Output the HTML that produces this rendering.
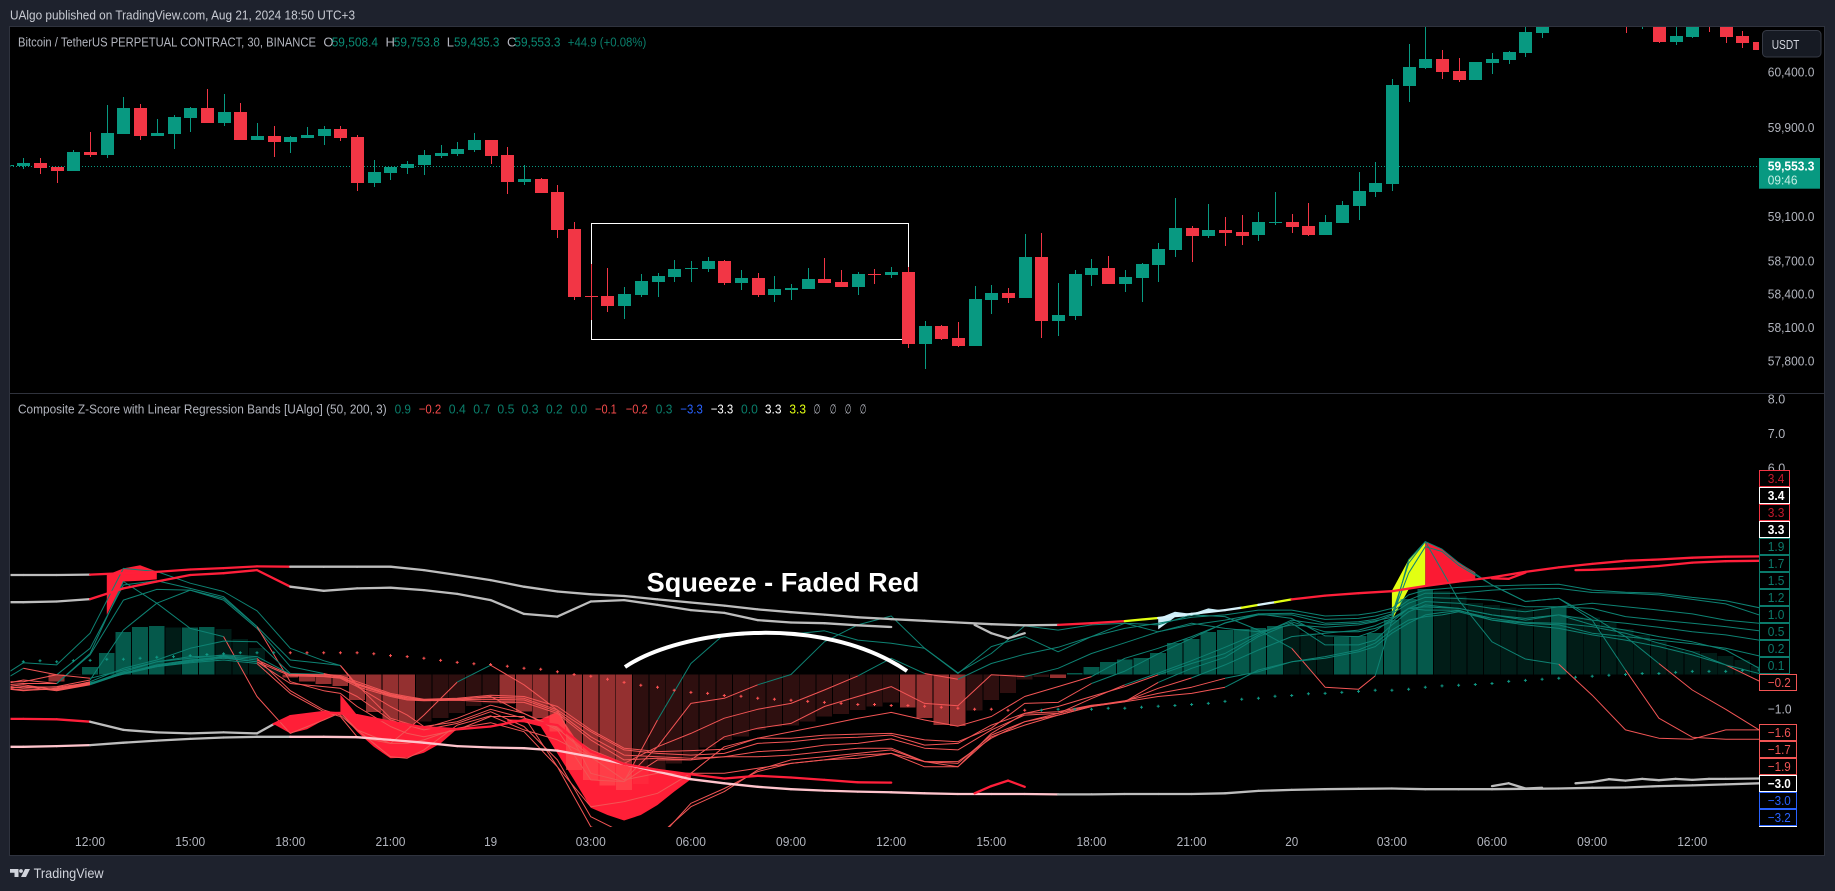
<!DOCTYPE html>
<html lang="en">
<head>
<meta charset="utf-8">
<title>Composite Z-Score with Linear Regression Bands chart</title>
<style>
html,body{margin:0;padding:0;background:#1e222d;width:1835px;height:891px;overflow:hidden}
svg{position:absolute;left:0;top:0;display:block}
text{font-family:"Liberation Sans",sans-serif;font-size:13px;white-space:pre}
</style>
</head>
<body>
<svg id="chart" xmlns="http://www.w3.org/2000/svg" width="1835" height="891" viewBox="0 0 1835 891">
  <defs>
    <clipPath id="pricePlot"><rect x="10.5" y="27" width="1748.5" height="366"/></clipPath>
    <clipPath id="oscPlot"><rect x="10.5" y="394" width="1748.5" height="433"/></clipPath>
    <clipPath id="tagClip"><rect x="1750" y="394" width="75" height="433"/></clipPath>
  </defs>
  <rect x="0" y="0" width="1835" height="891" fill="#1e222d"/>
  <rect x="9.5" y="26.5" width="1815" height="829" fill="#000" stroke="#2f333e"/>
  <line x1="10" x2="1825" y1="393.5" y2="393.5" stroke="#2f323c"/>
  <text x="10" y="19.3" textLength="345" lengthAdjust="spacingAndGlyphs" fill="#c8cbd3">UAlgo published on TradingView.com, Aug 21, 2024 18:50 UTC+3</text>

  <g id="priceLayer" clip-path="url(#pricePlot)">
    <rect x="591.5" y="223.5" width="317" height="116" fill="none" stroke="#fff" stroke-width="1"/>
  </g>
  <g id="oscLayer" clip-path="url(#oscPlot)"></g>

  <path d="M625,667 C680,630 820,612 907,671" fill="none" stroke="#fff" stroke-width="4"/>
  <text x="646.7" y="591.5" font-weight="700" textLength="272.6" lengthAdjust="spacingAndGlyphs" fill="#fff" style="font-size:27px">Squeeze - Faded Red</text>

  <g>
    <text x="18" y="46.5" textLength="298" lengthAdjust="spacingAndGlyphs" fill="#b2b5be">Bitcoin / TetherUS PERPETUAL CONTRACT, 30, BINANCE</text>
    <text x="323.4" y="46.5" fill="#b2b5be">O</text>
    <text x="331.7" y="46.5" textLength="46.3" lengthAdjust="spacingAndGlyphs" fill="#0a8b75">59,508.4</text>
    <text x="385.5" y="46.5" fill="#b2b5be">H</text>
    <text x="393.8" y="46.5" textLength="46" lengthAdjust="spacingAndGlyphs" fill="#0a8b75">59,753.8</text>
    <text x="446.8" y="46.5" fill="#b2b5be">L</text>
    <text x="454" y="46.5" textLength="45.4" lengthAdjust="spacingAndGlyphs" fill="#0a8b75">59,435.3</text>
    <text x="507" y="46.5" fill="#b2b5be">C</text>
    <text x="514.4" y="46.5" textLength="46" lengthAdjust="spacingAndGlyphs" fill="#0a8b75">59,553.3</text>
    <text x="567.8" y="46.5" textLength="78.5" lengthAdjust="spacingAndGlyphs" fill="#0a7f6c">+44.9 (+0.08%)</text>
  </g>

  <g>
    <text x="18" y="413.3" textLength="368.7" lengthAdjust="spacingAndGlyphs" fill="#b2b5be">Composite Z-Score with Linear Regression Bands [UAlgo] (50, 200, 3)</text>
    <text x="394.6" y="413.3" textLength="16.4" lengthAdjust="spacingAndGlyphs" fill="#0a7f6c">0.9</text>
    <text x="418.7" y="413.3" textLength="22.6" lengthAdjust="spacingAndGlyphs" fill="#f24a4a">−0.2</text>
    <text x="448.8" y="413.3" textLength="17" lengthAdjust="spacingAndGlyphs" fill="#0a7f6c">0.4</text>
    <text x="473.3" y="413.3" textLength="17" lengthAdjust="spacingAndGlyphs" fill="#0a7f6c">0.7</text>
    <text x="497.4" y="413.3" textLength="17" lengthAdjust="spacingAndGlyphs" fill="#0a7f6c">0.5</text>
    <text x="521.5" y="413.3" textLength="17" lengthAdjust="spacingAndGlyphs" fill="#0a7f6c">0.3</text>
    <text x="546" y="413.3" textLength="16.7" lengthAdjust="spacingAndGlyphs" fill="#0a7f6c">0.2</text>
    <text x="570.6" y="413.3" textLength="16.6" lengthAdjust="spacingAndGlyphs" fill="#0a7f6c">0.0</text>
    <text x="595" y="413.3" textLength="21.8" lengthAdjust="spacingAndGlyphs" fill="#f24a4a">−0.1</text>
    <text x="625.7" y="413.3" textLength="22" lengthAdjust="spacingAndGlyphs" fill="#f24a4a">−0.2</text>
    <text x="655.8" y="413.3" textLength="16.6" lengthAdjust="spacingAndGlyphs" fill="#0a7f6c">0.3</text>
    <text x="680.3" y="413.3" textLength="22.5" lengthAdjust="spacingAndGlyphs" fill="#2962ff">−3.3</text>
    <text x="710.7" y="413.3" textLength="22.6" lengthAdjust="spacingAndGlyphs" fill="#ffffff">−3.3</text>
    <text x="741" y="413.3" textLength="16.8" lengthAdjust="spacingAndGlyphs" fill="#0a7f6c">0.0</text>
    <text x="764.9" y="413.3" textLength="16.6" lengthAdjust="spacingAndGlyphs" fill="#ffffff">3.3</text>
    <text x="789.4" y="413.3" textLength="16.6" lengthAdjust="spacingAndGlyphs" fill="#e2ff12">3.3</text>
    <text x="813.5" y="413.3" textLength="7.1" lengthAdjust="spacingAndGlyphs" fill="#b2b5be">∅</text>
    <text x="829.7" y="413.3" textLength="6.8" lengthAdjust="spacingAndGlyphs" fill="#b2b5be">∅</text>
    <text x="844.8" y="413.3" textLength="6.7" lengthAdjust="spacingAndGlyphs" fill="#b2b5be">∅</text>
    <text x="859.8" y="413.3" textLength="6.7" lengthAdjust="spacingAndGlyphs" fill="#b2b5be">∅</text>
  </g>

  <g id="axisLayer"></g>

  <g>
    <rect x="1759" y="158" width="61" height="30.7" fill="#089981"/>
    <text x="1767.8" y="170.3" textLength="46.6" lengthAdjust="spacingAndGlyphs" font-weight="700" fill="#fff">59,553.3</text>
    <text x="1767.8" y="184.3" textLength="29.7" lengthAdjust="spacingAndGlyphs" fill="#c6efe5">09:46</text>
  </g>
  <g>
    <rect x="1762.5" y="30.5" width="58.5" height="26.5" rx="4" fill="#161a23" stroke="#363a45"/>
    <text x="1771.7" y="49.2" textLength="27.7" lengthAdjust="spacingAndGlyphs" fill="#d1d4dc">USDT</text>
  </g>

  <g>
    <path d="M10,869h8.5v8h-4v-4.2h-4.5z M25,869h5l-4,8h-5z" fill="#d1d4dc"/>
    <circle cx="21" cy="871" r="1.9" fill="#d1d4dc"/>
    <text x="33.6" y="878" textLength="70" lengthAdjust="spacingAndGlyphs" fill="#d1d4dc" style="font-size:14px">TradingView</text>
  </g>
</svg>

<script>
// ---------- price pane data ----------
const firstCandleBar = -1;
const opens = [59548,
59554,59578,59542,59506,59677,59650,59839,60073,59821,59839,
59983,60073,59938,60037,59785,59821,59767,59803,59821,59884,
59812,59398,59488,59533,59560,59641,59659,59695,59785,59650,
59407,59434,59317,58984,58381,58381,58291,58390,58507,58552,
58624,58624,58696,58498,58543,58390,58435,58444,58534,58507,
58462,58579,58570,58597,57949,58111,58003,57931,58345,58408,
58363,58732,58156,58201,58570,58633,58489,58543,58660,58795,
58993,58921,58975,58957,58930,59038,59047,59011,58930,59038,
59191,59317,59389,60271,60433,60514,60406,60325,60478,60505,
60568,60748,60860,60950,61020,60960,60960,60830,60865,60667,
60712,60900,60880,60721,60667];
const highs = [59560,
59623,59623,59542,59695,59857,60100,60172,60109,59974,60010,
60082,60244,60199,60118,59938,59911,59821,59902,59911,59911,
59830,59605,59542,59596,59695,59740,59767,59848,59785,59722,
59560,59443,59380,59047,58669,58633,58462,58579,58588,58705,
58696,58732,58705,58615,58588,58561,58489,58633,58723,58615,
58597,58624,58642,58642,58156,58120,58147,58471,58480,58453,
58939,58948,58498,58615,58714,58741,58615,58678,58858,59263,
59011,59209,59092,59110,59137,59317,59119,59218,59110,59236,
59497,59587,60334,60649,60865,60595,60523,60487,60568,60586,
60811,60900,61000,61060,61100,61050,61040,60960,60920,60860,
60900,60950,60920,60766,60700];
const lows = [59548,
59524,59479,59398,59506,59632,59623,59839,59785,59821,59704,
59857,59938,59911,59785,59785,59632,59668,59803,59740,59776,
59326,59362,59425,59479,59470,59623,59641,59677,59569,59299,
59380,59308,58903,58345,58165,58237,58174,58372,58372,58507,
58507,58597,58480,58435,58372,58327,58345,58444,58498,58462,
58390,58489,58543,57913,57724,57985,57922,57931,58219,58318,
58363,58003,58021,58165,58471,58489,58417,58327,58507,58732,
58687,58903,58831,58840,58876,59020,58948,58921,58930,59038,
59065,59272,59326,60127,60424,60334,60307,60325,60379,60469,
60532,60703,60820,60900,60900,60830,60748,60784,60658,60640,
60703,60757,60658,60613,60595];
const closes = [59560,
59578,59533,59506,59677,59650,59848,60073,59821,59848,59992,
60073,59938,60037,59785,59821,59767,59812,59830,59884,59803,
59398,59497,59542,59569,59650,59668,59704,59785,59641,59407,
59434,59308,58975,58372,58372,58291,58399,58516,58561,58624,
58633,58696,58498,58543,58390,58444,58453,58534,58498,58462,
58579,58570,58597,57949,58111,57994,57931,58354,58408,58363,
58732,58156,58210,58579,58633,58489,58552,58669,58804,58993,
58921,58975,58948,58921,59047,59047,59002,58930,59047,59200,
59326,59398,60280,60442,60514,60397,60325,60487,60514,60577,
60757,60865,60950,61020,60960,60900,60820,60900,60667,60721,
60865,60830,60712,60658,60595];
const lastPrice = 59553.3;
const priceTicks = [60400,59900,59100,58700,58400,58100,57800];
const priceTickLabels = ["60,400.0","59,900.0","59,100.0","58,700.0","58,400.0","58,100.0","57,800.0"];

// ---------- time axis data ----------
const timeBars = [4,10,16,22,28,34,40,46,52,58,64,70,76,82,88,94,100];
const timeLabels = ["12:00","15:00","18:00","21:00","19","03:00","06:00","09:00","12:00","15:00","18:00","21:00","20","03:00","06:00","09:00","12:00"];

// ---------- oscillator axis data ----------
const oscTicks = [8,7,6,-1];
const oscTickLabels = ["8.0","7.0","6.0","−1.0"];
const tagLabels = ["3.4","3.4","3.3","3.3","1.9","1.7","1.5","1.2","1.0","0.5","0.2","0.1","−0.2"];
const tagKinds = ["red","white","red","white","teal","teal","teal","teal","teal","teal","teal","teal","neg"];
const lowerTagLabels = ["−1.6","−1.7","−1.9","−3.0","−3.0","−3.2",""];
const lowerTagKinds = ["neg","neg","neg","white","blue","blue","white"];

// ---------- histogram data (one value per bar from bar 0) ----------
const histValues = [0,0,-.21,-.02,.22,.62,1.23,1.38,1.41,1.36,
1.36,1.38,1.32,1.03,.77,.18,-.09,-.21,-.28,-.33,
-.74,-1.09,-1.34,-1.44,-1.37,-1.26,-1.12,-.92,-.84,-.84,
-1.08,-1.27,-1.66,-2.77,-3.06,-3.23,-3.35,-3.18,-2.77,-2.58,
-2.39,-2.12,-1.90,-1.80,-1.61,-1.51,-1.48,-1.37,-1.22,-1.15,
-1.03,-.93,-.82,-.96,-1.27,-1.47,-1.50,-1.05,-.74,-.53,
-.14,-.07,-.10,.04,.22,.36,.43,.48,.62,.91,
1.03,1.23,1.29,1.32,1.35,1.41,1.44,1.20,1.12,1.09,
1.12,1.20,1.58,2.19,2.48,2.43,2.26,2.07,2.02,1.95,
1.92,1.90,1.96,1.68,1.66,1.49,1.32,1.15,.95,.76,
.68,.63,.53,.42,.24];
const histStrong = [0,0,1,0,1,1,1,1,1,0,
1,1,0,0,0,0,1,1,1,1,
1,1,1,1,0,0,0,0,0,1,
1,1,1,1,1,1,1,0,0,0,
0,0,0,0,0,0,0,0,0,0,
0,0,0,1,1,1,1,0,0,0,
0,0,1,1,1,1,1,1,1,1,
1,1,1,1,1,1,0,0,0,1,
1,1,1,1,1,0,0,0,0,0,
0,0,1,0,0,0,0,0,0,0,
0,0,0,0,0];

// ---------- squeeze dots (one value per bar from bar 0) ----------
const dotValues = [.37,.40,.37,.40,.41,.44,.44,.47,.50,.52,
.55,.58,.60,.63,.63,.63,.63,.63,.63,.63,
.63,.60,.55,.52,.47,.41,.35,.31,.29,.24,
.18,.15,.08,0,-.05,-.14,-.23,-.31,-.37,-.46,
-.52,-.55,-.61,-.63,-.69,-.72,-.75,-.78,-.81,-.84,
-.87,-.87,-.90,-.90,-.92,-.95,-.98,-1.01,-1.01,-1.04,
-1.04,-1.04,-1.01,-1.01,-1.01,-.98,-.98,-.95,-.92,-.90,
-.87,-.84,-.78,-.72,-.69,-.63,-.61,-.56,-.55,-.52,
-.49,-.46,-.46,-.43,-.37,-.33,-.31,-.29,-.26,-.20,
-.17,-.14,-.11,-.08,-.05,-.02,0,.03,.03,.06,
.09,.09,.09,.12,.13];
const dotStopBars = [0,16,61];
const dotStopColors = ["#0f9a86","#ff5252","#0f9a86"];

// ---------- z-score lines, sampled on these bars ----------
const sampleBars = [-1,0,2,4,6,8,10,12,14,16,18,
19,20,22,23,24,26,28,30,32,34,36,38,
40,42,44,46,48,50,52,54,56,58,
60,62,64,66,68,70,72,74,76,78,80,
81,82,83,84,85,86,
88,90,92,94,96,98,100,102,104];

const lineA = [.03,.34,.28,1.20,3.08,2.99,2.65,2.41,1.85,.76,.40,
.26,-.30,-1.27,-1.42,-1.56,-1.27,-.89,-1.13,-1.56,-2.39,-3.06,-2.10,
-.84,-.69,-.30,0,.95,1.44,1.70,.76,.05,.61,
1.41,1.29,1.44,1.49,1.44,1.73,1.68,1.29,.76,-.37,-.43,
-.04,1.58,3.33,3.86,3.02,2.16,
.95,.45,.30,-.60,-1.61,-1.85,-1.88,-1.61,-1.61];
const lineB = [-.26,-.16,-.26,.61,2.70,2.07,1.34,1.10,-.64,-1.71,-1.32,
-1.11,-1.61,-2.00,-1.61,-1.18,-.22,.27,-.30,-1.03,-2.87,-3.11,-1.32,
.32,1.17,1.24,1.17,1.27,1.00,.91,.76,.03,.81,
1.10,.66,1.10,1.49,1.24,1.49,1.34,1.24,1.44,1.37,1.44,
1.53,1.73,3.23,3.86,3.64,3.25,
2.60,2.12,2.21,1.58,.13,-1.27,-1.82,-1.88,-1.88];
const lineC = [-.11,.18,-.01,.76,2.60,2.72,2.50,2.26,1.39,.42,.32,
.26,-.35,-.93,-1.18,-1.51,-1.37,-1.01,-1.27,-1.51,-2.19,-2.58,-2.10,
-1.71,-1.27,-1.01,-.84,-.45,-.04,.47,.03,-.14,.32,
.59,.79,1.10,1.34,1.49,1.66,1.73,1.87,1.87,1.70,1.73,
1.80,1.92,2.31,2.45,2.49,2.53,
2.57,2.60,2.62,2.45,2.39,2.36,2.24,2.14,1.94];
const lineD = [-.30,-.26,-.26,.57,2.16,2.47,2.45,2.16,1.34,.23,.03,
-.08,-.28,-.60,-.68,-.74,-.72,-.64,-1.13,-1.61,-3.06,-3.11,-2.48,
-2.48,-1.81,-1.56,-1.42,-.93,-.64,-.35,-.84,-.91,-.01,
-.06,.18,.61,.92,1.24,1.44,1.58,1.76,1.78,1.60,1.63,
1.70,1.82,2.16,2.36,2.36,2.36,
2.45,2.50,2.50,2.38,2.36,2.31,2.18,2.05,1.73];
const lineE = [-.35,-.40,-.35,-.16,1.29,2.07,2.45,2.21,1.39,-.21,-.47,
-.55,-.93,-1.51,-1.71,-1.81,-1.61,-1.22,-1.22,-2.68,-3.84,-3.69,-3.45,
-2.87,-2.10,-1.85,-1.66,-1.47,-1.27,-1.10,-1.32,-1.50,-1.22,
-.64,-.35,-.06,.47,.76,1.10,1.49,1.73,1.73,1.49,1.53,
1.60,1.76,2.07,2.24,2.22,2.21,
2.16,1.97,1.97,2.07,1.97,1.87,1.76,1.58,1.49];
const lineF = [-.40,-.45,-.43,-.21,.18,.42,.76,.97,.95,.03,.01,
-.03,-.21,-.55,-.64,-.72,-.69,-.60,-.64,-.93,-1.61,-2.14,-2.24,
-2.21,-2.17,-1.85,-1.85,-1.76,-1.73,-1.71,-1.90,-1.95,-1.56,
-.84,-.81,-.26,.10,.60,1.05,1.50,1.76,1.63,1.12,1.10,
1.27,1.60,1.92,2.12,2.09,2.07,
1.92,1.82,1.97,1.92,1.68,1.58,1.49,1.39,1.27];
const lineG = [-.42,-.47,-.40,-.26,.08,.37,.47,.57,.52,.01,-.01,
-.06,-.26,-.58,-.67,-.74,-.71,-.66,-.69,-1.03,-1.66,-2.19,-2.29,
-2.34,-2.29,-2.00,-1.95,-1.85,-1.82,-1.76,-2.05,-2.00,-1.47,
-1.13,-1.08,-.89,-.79,-.23,.18,.50,1.10,1.49,.86,.86,
1.00,1.44,1.82,2.02,1.97,1.92,
1.73,1.58,1.73,1.58,1.49,1.37,1.24,1.15,1.00];
const lineH = [-.42,-.45,-.42,-.28,.03,.28,.42,.52,.42,-.01,-.04,
-.09,-.30,-.61,-.71,-.75,-.73,-.72,-.74,-1.08,-1.81,-2.34,-2.39,
-2.43,-2.39,-2.24,-2.19,-2.05,-2.00,-1.87,-2.14,-2.19,-1.61,
-1.18,-1.13,-.91,-.76,-.55,-.37,-.11,.08,.37,.47,.66,
.81,1.20,1.49,1.73,1.80,1.85,
1.63,1.51,1.49,1.39,1.20,.91,.66,.28,-.19];
const lineI = [-.40,-.35,-.37,-.24,.01,.23,.37,.47,.37,-.04,-.06,
-.11,-.35,-.64,-.74,-.76,-.75,-.79,-.81,-1.13,-1.90,-2.48,-2.43,
-2.48,-2.39,-2.39,-2.34,-2.24,-2.14,-2.14,-2.53,-2.53,-1.85,
-1.37,-1.18,-.93,-.78,-.40,-.10,.28,.71,1.10,1.20,1.29,
1.42,1.63,1.92,1.87,1.87,1.87,
1.58,1.49,1.44,1.20,1.10,1.00,.89,.76,.54];
const lineJ = [-.21,-.21,-.01,-.11,.13,.37,.52,.54,.47,-.47,-1.03,
-1.18,-1.61,-2.39,-2.43,-2.19,-1.47,-1.20,-1.61,-1.90,-2.39,-3.06,-2.87,
-2.87,-2.87,-2.72,-2.58,-2.48,-2.34,-2.29,-2.53,-2.68,-1.71,
-1.13,-.93,-.64,-.35,-.01,.32,.61,1.15,1.58,1.44,1.49,
1.56,1.66,2.94,3.71,3.57,3.17,
2.60,2.12,2.21,1.68,1.10,.32,-.45,-1.01,-1.61];
const lineK = [-.40,-.35,-.47,-.30,.03,.23,.34,.42,.32,-.55,-1.08,
-1.22,-1.81,-2.00,-2.00,-1.90,-1.56,-1.40,-1.66,-2.68,-4.42,-4.81,-4.81,
-3.74,-3.31,-2.82,-2.58,-2.48,-2.43,-2.29,-2.68,-2.68,-1.81,
-1.47,-1.18,-.93,-.79,-.64,-.55,-.37,.13,.37,.52,.71,
.91,1.29,1.58,1.68,1.73,1.82,
1.58,1.44,1.34,1.15,1.00,.81,.57,.28,.03];
const lineL = [-.35,-.30,-.45,-.28,.05,.25,.40,.50,.37,-.26,-.35,
-.40,-.64,-1.32,-1.47,-1.61,-1.42,-1.08,-1.51,-2.48,-4.13,-4.61,-4.71,
-3.84,-3.40,-2.77,-2.48,-2.39,-2.29,-2.19,-2.53,-2.58,-1.76,
-1.37,-1.13,-.70,-.30,.04,.40,.79,1.20,1.53,1.24,1.24,
1.34,1.53,1.92,1.97,1.94,1.92,
1.73,1.63,1.73,1.44,1.29,1.10,.95,.71,.18];

// ---------- regression bands ----------
const upperOuterBars = [-1,0,2,4,6,8,10,12,14,16,18,20,22,24,26,28,30,32,34,36,38,40,42,44,46,48,50,52,54,56,58,60,62,64,66,68,70,72,73,74,75,76,78,80,82,84,86,88,90,92,94,96,98,100,102,104];
const upperOuterValues = [2.89,2.89,2.89,2.90,2.94,2.98,3.05,3.09,3.14,3.13,3.13,
3.13,3.13,3.03,2.89,2.74,2.55,2.41,2.33,2.28,2.18,
2.09,2.00,1.89,1.81,1.74,1.66,1.61,1.56,1.51,1.46,
1.43,1.44,1.49,1.55,1.64,1.76,1.87,1.94,2.02,2.10,2.18,2.29,
2.36,2.42,2.57,2.70,2.82,2.98,3.11,3.21,3.30,3.34,
3.39,3.42,3.43];
const upperOuterStopBars = [0,4,16,62,66,68,73,74,75,76];
const upperOuterStopColors = ["#bdbdbd","#ff1f3a","#bdbdbd","#ff1f3a","#e2ff12","#d8f3fb","#e2ff12","#d8f3fb","#e2ff12","#ff1f3a"];

const upperInnerBars = [-1,0,2,4,6,8,10,12,14,16,18,20,22,24,26,28,30,32,34,36,38,40,42,44,46,48,50,52,53,57,58,59,60,61,88,89,90,91,93,94,96,98,100,102,104];
const upperInnerValues = [2.10,2.10,2.12,2.19,2.50,2.70,2.89,2.94,3.03,2.55,2.43,
2.50,2.52,2.45,2.34,2.16,1.76,1.68,2.12,2.16,2.02,
1.87,1.79,1.58,1.51,1.49,1.43,1.38,null,1.44,1.20,1.05,1.20,null,2.79,2.78,2.96,null,3.03,3.04,3.08,3.15,3.25,3.29,3.30];
const upperInnerStopBars = [0,4,15,88];
const upperInnerStopColors = ["#bdbdbd","#ff1f3a","#bdbdbd","#ff1f3a"];

const lowerOuterBars = [-1,0,2,4,6,8,10,12,14,16,18,20,22,24,26,28,30,32,34,36,38,40,42,44,46,48,50,52,54,56,58,60,62,64,66,68,70,72,74,76,78,80,82,84,86,88,90,92,94,96,98,100,102,104];
const lowerOuterValues = [-2.10,-2.10,-2.08,-2.05,-1.98,-1.92,-1.87,-1.83,-1.81,-1.81,-1.81,
-1.82,-1.90,-1.98,-2.08,-2.12,-2.14,-2.21,-2.39,-2.60,-2.82,
-3.04,-3.16,-3.26,-3.33,-3.37,-3.40,-3.42,-3.45,-3.47,-3.47,
-3.47,-3.48,-3.48,-3.47,-3.47,-3.47,-3.45,-3.38,-3.35,-3.33,
-3.32,-3.31,-3.33,-3.33,-3.33,-3.32,-3.31,-3.29,-3.28,-3.24,
-3.22,-3.19,-3.16];
const lowerOuterStopBars = [0,4,16,62];
const lowerOuterStopColors = ["#ffc4cc","#bdbdbd","#ffc4cc","#bdbdbd"];

const lowerInnerBars = [-1,0,2,4,6,8,10,12,14,15,16,18,20,22,24,26,28,30,32,34,36,38,40,42,44,46,48,50,52,53,57,58,59,60,61,88,89,90,91,92,93,94,95,96,97,98,99,100,101,102,104];
const lowerInnerValues = [-1.29,-1.29,-1.30,-1.37,-1.61,-1.68,-1.71,-1.68,-1.71,-1.44,-1.21,-1.09,
-1.18,-1.37,-1.53,-1.59,-1.51,-1.32,-1.47,-2.24,-2.60,-2.77,
-2.90,-3.02,-2.94,-2.99,-3.06,-3.13,-3.14,null,-3.45,-3.24,-3.08,-3.26,null,-3.24,-3.16,-3.31,-3.29,null,
-3.16,-3.12,-3.04,-3.08,-3.03,-3.07,-3.03,-3.06,-3.03,-3.03,-3.02];
const lowerInnerStopBars = [0,4,15,62];
const lowerInnerStopColors = ["#ff1f3a","#bdbdbd","#ff1f3a","#bdbdbd"];

// ---------- filled regions ----------
const fillTopBars = [5,6,7,8];
const fillTopUpper = [2.89,3.08,3.17,2.99];
const fillTopLower = [1.73,2.70,2.72,2.76];
const fillDipOneBars = [15,16,17,18,19];
const fillDipOneUpper = [-1.44,-1.21,-1.13,-1.09,-1.08];
const fillDipOneLower = [-1.44,-1.71,-1.59,-1.32,-1.10];
const fillDipTwoBars = [19,20,21,22,23,24,25,26];
const fillDipTwoUpper = [-.58,-1.18,-1.27,-1.37,-1.44,-1.53,-1.59,-1.58];
const fillDipTwoLower = [-1.11,-1.66,-2.10,-2.43,-2.41,-2.27,-2.00,-1.58];
const fillDipThreeBars = [29,30,31,32,33,34,35,36,37,38,39,40];
const fillDipThreeUpper = [-1.30,-1.32,-1.30,-1.08,-1.81,-2.24,-2.39,-2.60,-2.73,-2.77,-2.82,-2.90];
const fillDipThreeLower = [-1.37,-1.39,-1.51,-2.29,-3.06,-3.87,-4.08,-4.24,-4.08,-3.79,-3.40,-3.04];
const fillBlueBars = [68,69,70,71,72];
const fillBlueUpper = [1.63,1.82,1.76,1.92,1.85];
const fillBlueLower = [1.31,1.66,1.70,1.81,1.85];
const fillYellowBars = [82,83,84];
const fillYellowUpper = [2.43,3.33,3.86];
const fillYellowLower = [1.58,2.47,2.55];
const fillPeakBars = [84,85,86,87];
const fillPeakUpper = [3.86,3.64,3.25,2.97];
const fillPeakLower = [2.55,2.63,2.70,2.79];

// ---------- scales ----------
const barX = function (i) { return 23.3 + 16.69 * i; };
const priceY = function (p) { return (61045 - p) / 9; };
const oscY = function (v) { return 674.5 - 34.44 * v; };
const colorAt = function (stopBars, stopColors, bar) {
  let c = stopColors[0];
  for (let k = 0; k < stopBars.length; k++) { if (bar >= stopBars[k]) c = stopColors[k]; }
  return c;
};

const NS = "http://www.w3.org/2000/svg";
const priceLayer = document.getElementById("priceLayer");
const oscLayer = document.getElementById("oscLayer");
const axisLayer = document.getElementById("axisLayer");

function make(tag, parent, attrs) {
  const el = document.createElementNS(NS, tag);
  for (const k in attrs) el.setAttribute(k, attrs[k]);
  parent.appendChild(el);
  return el;
}
function label(parent, x, y, str, len, color, name, bold) {
  const el = make("text", parent, { x: x, y: y, fill: color });
  if (len) {
    el.setAttribute("textLength", len);
    el.setAttribute("lengthAdjust", "spacingAndGlyphs");
  }
  if (bold) el.setAttribute("font-weight", "700");
  el.textContent = str;
  
  
  return el;
}

// ---------- last price line ----------
const priceLine = make("line", priceLayer, { x1: 10, x2: 1759, y1: Math.round(priceY(lastPrice)) + .5, y2: Math.round(priceY(lastPrice)) + .5, stroke: "#089981", "stroke-dasharray": "1 2" });



// ---------- candles ----------
for (let n = 0; n < opens.length; n++) {
  const bar = firstCandleBar + n;
  const cx = Math.round(barX(bar));
  const up = closes[n] >= opens[n];
  const color = up ? "#089981" : "#f23645";
  const g = make("g", priceLayer, { "shape-rendering": "crispEdges", fill: color });
  
  
  const wy1 = priceY(highs[n]);
  const wy2 = priceY(lows[n]);
  make("rect", g, { x: cx, y: wy1, width: 1, height: Math.max(1, wy2 - wy1) });
  const by1 = Math.round(priceY(Math.max(opens[n], closes[n])));
  const by2 = Math.round(priceY(Math.min(opens[n], closes[n])));
  make("rect", g, { x: cx - 6, y: by1, width: 13, height: Math.max(1, by2 - by1) });
}

// ---------- fills ----------
function drawFill(bars, upper, lower, color, name) {
  let d = "";
  for (let k = 0; k < bars.length; k++) d += (k ? "L" : "M") + barX(bars[k]).toFixed(1) + "," + oscY(upper[k]).toFixed(1);
  for (let k = bars.length - 1; k >= 0; k--) d += "L" + barX(bars[k]).toFixed(1) + "," + oscY(lower[k]).toFixed(1);
  const p = make("path", oscLayer, { d: d + "Z", fill: color });
  
  
}
drawFill(fillTopBars, fillTopUpper, fillTopLower, "#ff1f37", "fill-upper-breakout");
drawFill(fillDipOneBars, fillDipOneUpper, fillDipOneLower, "#ff1f37", "fill-lower-dip-one");
drawFill(fillDipTwoBars, fillDipTwoUpper, fillDipTwoLower, "#ff1f37", "fill-lower-dip-two");
drawFill(fillDipThreeBars, fillDipThreeUpper, fillDipThreeLower, "#ff1f37", "fill-lower-dip-three");
drawFill(fillBlueBars, fillBlueUpper, fillBlueLower, "#cbeef8", "fill-light-blue");
drawFill(fillYellowBars, fillYellowUpper, fillYellowLower, "#e2ff12", "fill-yellow-peak");
drawFill(fillPeakBars, fillPeakUpper, fillPeakLower, "#fb1a33", "fill-red-peak");

// ---------- histogram ----------
const histGroup = make("g", oscLayer, { "shape-rendering": "crispEdges" });


for (let i = 0; i < histValues.length; i++) {
  const v = histValues[i];
  const y0 = oscY(0);
  const yv = oscY(v);
  const alpha = histStrong[i] ? 0.58 : 0.18;
  const base = v >= 0 ? "8,153,129" : "255,82,82";
  const r = make("rect", histGroup, { x: (barX(i) - 8).toFixed(1), y: Math.min(y0, yv).toFixed(1), width: 15.8, height: Math.abs(yv - y0).toFixed(1), fill: "rgba(" + base + "," + alpha + ")" });
  
  
}

// ---------- thin z-score lines ----------
function drawThin(values, name) {
  const g = make("g", oscLayer, { fill: "none", "stroke-width": 1 });
  
  
  let curColor = null, d = "";
  const flush = function () {
    if (d) make("path", g, { d: d, stroke: curColor, "stroke-linejoin": "round" });
  };
  for (let k = 0; k + 1 < sampleBars.length && k + 1 < values.length; k++) {
    const color = values[k + 1] >= 0 ? "#0e8273" : "#f25555";
    const x1 = barX(sampleBars[k]).toFixed(1), y1 = oscY(values[k]).toFixed(1);
    const x2 = barX(sampleBars[k + 1]).toFixed(1), y2 = oscY(values[k + 1]).toFixed(1);
    if (color !== curColor) { flush(); curColor = color; d = "M" + x1 + "," + y1; }
    d += "L" + x2 + "," + y2;
  }
  flush();
}
drawThin(lineA, "zscore-line-a");
drawThin(lineB, "zscore-line-b");
drawThin(lineC, "zscore-line-c");
drawThin(lineD, "zscore-line-d");
drawThin(lineE, "zscore-line-e");
drawThin(lineF, "zscore-line-f");
drawThin(lineG, "zscore-line-g");
drawThin(lineH, "zscore-line-h");
drawThin(lineI, "zscore-line-i");
drawThin(lineJ, "zscore-line-j");
drawThin(lineK, "zscore-line-k");
drawThin(lineL, "zscore-line-l");

// ---------- thick bands ----------
function drawBand(bars, values, stopBars, stopColors, name) {
  const g = make("g", oscLayer, { fill: "none", "stroke-width": 2.3, "stroke-linecap": "round", "stroke-linejoin": "round" });
  
  
  for (let k = 0; k + 1 < bars.length; k++) {
    if (values[k] === null || values[k + 1] === null) continue;
    make("line", g, { x1: barX(bars[k]).toFixed(1), y1: oscY(values[k]).toFixed(1), x2: barX(bars[k + 1]).toFixed(1), y2: oscY(values[k + 1]).toFixed(1), stroke: colorAt(stopBars, stopColors, bars[k]) });
  }
}
drawBand(upperOuterBars, upperOuterValues, upperOuterStopBars, upperOuterStopColors, "upper-outer-band");
drawBand(upperInnerBars, upperInnerValues, upperInnerStopBars, upperInnerStopColors, "upper-inner-band");
drawBand(lowerOuterBars, lowerOuterValues, lowerOuterStopBars, lowerOuterStopColors, "lower-outer-band");
drawBand(lowerInnerBars, lowerInnerValues, lowerInnerStopBars, lowerInnerStopColors, "lower-inner-band");

// ---------- squeeze dots ----------
const dotGroup = make("g", oscLayer, {});


for (let i = 0; i < dotValues.length; i++) {
  const x = barX(i), y = oscY(dotValues[i]);
  const d = "M" + (x - 1.5).toFixed(1) + "," + y.toFixed(1) + "h3M" + x.toFixed(1) + "," + (y - 1.5).toFixed(1) + "v3";
  const p = make("path", dotGroup, { d: d, stroke: colorAt(dotStopBars, dotStopColors, i), "stroke-width": 1, fill: "none" });
  
  
}

// ---------- axes ----------
for (let k = 0; k < timeBars.length; k++) {
  const short = timeLabels[k].length < 3;
  const w = short ? 13 : 30;
  label(axisLayer, barX(timeBars[k]) - w / 2, 846, timeLabels[k], w, "#b2b5be", "time-axis-label");
}
for (let k = 0; k < priceTicks.length; k++) {
  label(axisLayer, 1767.8, priceY(priceTicks[k]) + 4.8, priceTickLabels[k], 46.6, "#b2b5be", "price-axis-label");
}
for (let k = 0; k < oscTicks.length; k++) {
  const negative = oscTicks[k] < 0;
  label(axisLayer, 1767.8, oscY(oscTicks[k]) + 4.6, oscTickLabels[k], negative ? 23.7 : 17.4, "#b2b5be", "indicator-axis-label");
}

// ---------- value tags ----------
const tagStyle = {
  red: ["#f23645", "#c8182c"],
  white: ["#ffffff", "#ffffff"],
  teal: ["#0b7a6b", "#0b7a6b"],
  neg: ["#f25555", "#f25555"],
  blue: ["#2962ff", "#2962ff"]
};
const tagGroup = make("g", axisLayer, { "clip-path": "url(#tagClip)" });


function drawTags(labels, kinds, top) {
  for (let k = 0; k < labels.length; k++) {
    const style = tagStyle[kinds[k]];
    const isNeg = labels[k].charAt(0) === "−" || labels[k] === "";
    const y = Math.round(top + 17 * k) + .5;
    const r = make("rect", tagGroup, { x: 1759.5, y: y, width: isNeg ? 37 : 30, height: 16, fill: "#000", stroke: style[0] });
    
    
    if (labels[k]) label(tagGroup, 1767.8, y + 12.7, labels[k], isNeg ? 23 : 16.6, style[1], "value-tag-label", kinds[k] === "white");
  }
}
drawTags(tagLabels, tagKinds, 469.67);
drawTags(lowerTagLabels, lowerTagKinds, 723.67);
</script>
</body>
</html>
